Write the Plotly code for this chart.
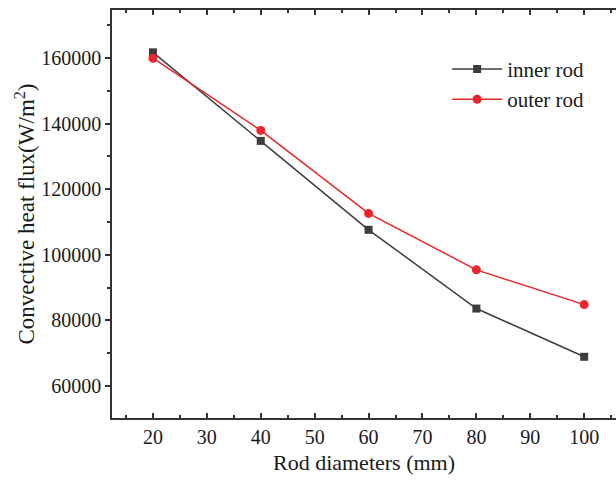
import plotly.graph_objects as go

diameters = [20, 40, 60, 80, 100]
inner_rod = [161700, 134700, 107600, 83600, 68900]
outer_rod = [159900, 137900, 112600, 95400, 84800]

FONT = "Liberation Serif"

fig = go.Figure()
fig.add_trace(go.Scatter(
    x=diameters, y=inner_rod, name="inner rod", mode="lines+markers",
    line=dict(color="#3c3c3c", width=1.5),
    marker=dict(symbol="square", size=8, color="#3c3c3c"),
))
fig.add_trace(go.Scatter(
    x=diameters, y=outer_rod, name="outer rod", mode="lines+markers",
    line=dict(color="#e8262b", width=1.5),
    marker=dict(symbol="circle", size=9, color="#e8262b"),
))

fig.update_layout(
    width=616, height=481,
    margin=dict(l=112, r=0, t=10, b=63),
    paper_bgcolor="white", plot_bgcolor="white",
    font=dict(family=FONT, color="#1a1a1a", size=20),
    showlegend=True,
    legend=dict(x=0.665, y=0.905, xanchor="left", yanchor="top",
                bgcolor="rgba(0,0,0,0)", font=dict(family=FONT, size=21, color="#1a1a1a"),
                itemwidth=50, tracegroupgap=0),
    xaxis=dict(
        range=[12.4, 105.9], tickvals=[20, 30, 40, 50, 60, 70, 80, 90, 100],
        showline=True, linecolor="#333333", linewidth=1.5, mirror="ticks",
        ticks="inside", ticklen=5, tickcolor="#333333", tickwidth=1.5,
        minor=dict(dtick=5, tick0=0, ticks="inside", ticklen=3, tickcolor="#333333"),
        showgrid=False, zeroline=False,
        title=dict(text="Rod diameters (mm)", font=dict(family=FONT, size=22), standoff=8),
        tickfont=dict(family=FONT, size=20, color="#1a1a1a"),
    ),
    yaxis=dict(
        range=[50240, 174600], tickvals=[60000, 80000, 100000, 120000, 140000, 160000],
        tickformat="d",
        showline=True, linecolor="#333333", linewidth=1.5,
        ticks="outside", ticklen=5, tickcolor="#333333", tickwidth=1.5,
        minor=dict(dtick=10000, tick0=0, ticks="outside", ticklen=3, tickcolor="#333333"),
        showgrid=False, zeroline=False,
        title=dict(text="Convective heat flux(W/m<sup>2</sup>)", font=dict(family=FONT, size=23), standoff=0),
        tickfont=dict(family=FONT, size=20, color="#1a1a1a"),
    ),
)

fig.write_html("out.html")
